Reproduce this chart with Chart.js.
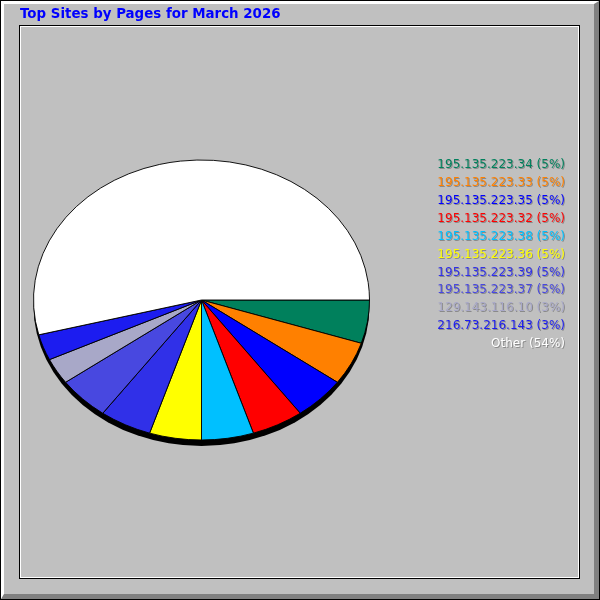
<!DOCTYPE html>
<html>
<head>
<meta charset="utf-8">
<script src="https://cdn.jsdelivr.net/npm/chart.js@4.4.1/dist/chart.umd.min.js"></script>
<style>
  body { margin: 0; }
  #frame {
    position: absolute; left: 0; top: 0; width: 600px; height: 600px;
    box-sizing: border-box; background: #c0c0c0; border: 1px solid #000;
  }
  #bevel {
    position: absolute; left: 0; top: 0; right: 0; bottom: 0;
    border-top: 3px solid #fff; border-left: 3px solid #fff;
    border-right: 5px solid #808080; border-bottom: 5px solid #808080;
  }
  #panel {
    position: absolute; left: 19px; top: 25px; width: 561px; height: 554px;
    box-sizing: border-box; border: 1px solid #000;
  }
  #panel div {
    position: absolute; left: 0; top: 0; right: 0; bottom: 0;
    border: 1px solid #fff;
  }
  #chart { position: absolute; left: 0; top: 0; }
</style>
</head>
<body>
<div id="frame"><div id="bevel"></div></div>
<div id="panel"><div></div></div>
<canvas id="chart" width="600" height="600"></canvas>
<script>
const chartTitle = "Top Sites by Pages for March 2026";

// sites, share of pages in percent
const sites = [
    "195.135.223.34",
    "195.135.223.33",
    "195.135.223.35",
    "195.135.223.32",
    "195.135.223.38",
    "195.135.223.36",
    "195.135.223.39",
    "195.135.223.37",
    "129.143.116.10",
    "216.73.216.143",
    "Other",
];
const pages = [5, 5, 5, 5, 5, 5, 5, 5, 3, 3, 54];

var sliceColors = [
    "#00805c",
    "#ff8000",
    "#0000ff",
    "#ff0000",
    "#00c0ff",
    "#ffff00",
    "#3030e8",
    "#4848e0",
    "#a8a8c8",
    "#1c1cf0",
    "#ffffff",
];

// pie is drawn squashed, with a black rim under it
const ellipsePie = {
    id: "ellipsePie",
    beforeDatasetsDraw(chart) {
        const arc = chart.getDatasetMeta(0).data[0];
        if (!arc) return;
        const ctx = chart.ctx;
        const k = 140 / arc.outerRadius;
        ctx.save();
        ctx.translate(arc.x, arc.y);
        ctx.scale(1, k);
        ctx.translate(-arc.x, -arc.y);
        ctx.fillStyle = "#000";
        ctx.beginPath();
        ctx.arc(arc.x, arc.y + 6 / k, arc.outerRadius, 0, Math.PI * 2);
        ctx.fill();
    },
    afterDatasetsDraw(chart) {
        chart.ctx.restore();
    },
};

// legend on the right, right aligned with a small drop shadow
const sideLegend = {
    id: "sideLegend",
    afterDraw(chart) {
        const ctx = chart.ctx;
        ctx.save();
        ctx.font = '12px "DejaVu Sans"';
        ctx.textAlign = "right";
        ctx.textBaseline = "middle";
        for (let i = 0; i < sites.length; i++) {
            const txt = sites[i] + " (" + pages[i] + "%)";
            const y = 165 + i * 17.9;
            ctx.fillStyle = "#8a8a8a";
            ctx.fillText(txt, 566, y + 1);
            ctx.fillStyle = sliceColors[i];
            ctx.fillText(txt, 565, y);
        }
        ctx.restore();
    },
};

let pieChart = new Chart(document.getElementById("chart"), {
    type: "pie",
    plugins: [ellipsePie, sideLegend],
    data: {
        labels: sites,
        datasets: [{
            data: pages,
            backgroundColor: sliceColors,
            borderColor: "#000",
            borderWidth: 1,
            hoverOffset: 0,
        }],
    },
    options: {
        responsive: false,
        devicePixelRatio: 1,
        animation: false,
        events: [],
        rotation: 90,
        layout: {
            padding: { left: 20, right: 217, top: 0, bottom: 131.5 },
        },
        plugins: {
            legend: { display: false },
            tooltip: { enabled: false },
            title: {
                display: true,
                text: chartTitle,
                align: "start",
                color: "#0000ff",
                font: { family: "DejaVu Sans", size: 13.4, weight: "bold", lineHeight: 1.2 },
                padding: { top: 6.5, bottom: 108.92 },
            },
        },
    },
});
</script>
</body>
</html>
